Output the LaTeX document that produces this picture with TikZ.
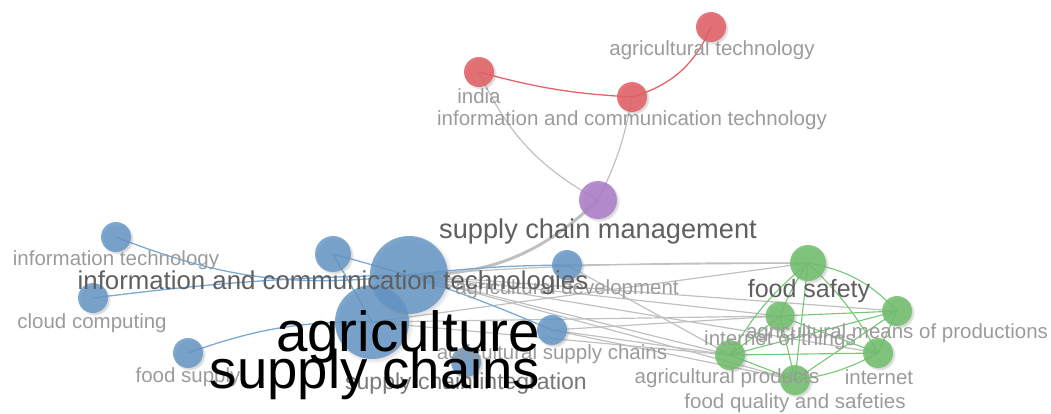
\documentclass[tikz,border=0pt]{standalone}
\usepackage{fontspec}
\setmainfont{Liberation Sans}
\usetikzlibrary{shadows}
\definecolor{cblue}{RGB}{96,148,198}
\definecolor{cred}{RGB}{226,94,100}
\definecolor{cgreen}{RGB}{112,190,108}
\definecolor{cpurple}{RGB}{172,124,200}
\definecolor{eblue}{RGB}{122,170,214}
\definecolor{ered}{RGB}{228,100,104}
\definecolor{egreen}{RGB}{116,200,116}
\definecolor{egray}{RGB}{192,192,192}
\definecolor{tlight}{RGB}{155,155,155}
\definecolor{tmid}{RGB}{95,95,95}
\definecolor{tsci}{RGB}{120,120,120}
\begin{document}
\begin{tikzpicture}[x=1pt,y=-1pt,
  dot/.style={circle,inner sep=0pt,minimum size=#1,draw=none,
    circular drop shadow={shadow xshift=1.5pt,shadow yshift=-1.5pt,shadow scale=1.08,opacity=0.3}},
  bluedot/.style={dot=#1,fill=cblue,fill opacity=0.8},
  reddot/.style={dot=#1,fill=cred,fill opacity=0.85},
  greendot/.style={dot=#1,fill=cgreen,fill opacity=0.85},
  purpledot/.style={dot=#1,fill=cpurple,fill opacity=0.85},
  lbl/.style={inner sep=0pt,anchor=center,font=\fontsize{#1}{#1}\selectfont},
  small/.style={lbl=20.5pt,text=tlight},
  bedge/.style={draw=eblue,line width=1.3pt},
  redge/.style={draw=ered,line width=1.3pt},
  gedge/.style={draw=egreen,line width=1.1pt},
  nedge/.style={draw=egray,line width=1.2pt},
]
\useasboundingbox (0,0) rectangle (1051,413);

% ---------- node positions (circles are drawn after the links)
\coordinate (pAgT)  at (711,27);
\coordinate (pInd)  at (479,72);
\coordinate (pICTy) at (632,97);
\coordinate (pSCM)  at (598,200);
\coordinate (pIT)   at (116,237);
\coordinate (pICTs) at (333,254);
\coordinate (pAgr)  at (409,275);
\coordinate (pSC)   at (372,322);
\coordinate (pCC)   at (93,298);
\coordinate (pFS)   at (188,353);
\coordinate (pAD)   at (567,265);
\coordinate (pASC)  at (552,330);
\coordinate (pSCI)  at (466,362);
\coordinate (pFSa)  at (808,263);
\coordinate (pAMP)  at (897,311);
\coordinate (pIoT)  at (780,316);
\coordinate (pInt)  at (878,353);
\coordinate (pAP)   at (730,355);
\coordinate (pFQ)   at (795,380);

% ---------- grey links between clusters
\draw[nedge] (pInd) to[bend right=18] (pSCM);
\draw[nedge] (pICTy) to[bend left=8] (pSCM);
\draw[nedge,line width=3pt] (pSCM) to[bend left=22] (pAgr);
\draw[nedge] (pAgr) to[bend left=2] (pFSa);
\draw[nedge] (pAgr) to (pAMP);
\draw[nedge] (pAgr) to (pIoT);
\draw[nedge] (pAgr) to (pAP);
\draw[nedge] (pAgr) to (pInt);
\draw[nedge] (pAgr) to (pFQ);
\draw[nedge] (pSC) to (pFSa);
\draw[nedge] (pSC) to (pIoT);
\draw[nedge] (pSC) to (pAP);
\draw[nedge] (pAD) to (pFSa);
\draw[nedge] (pAD) to (pAP);
\draw[nedge] (pASC) to (pAP);
\draw[nedge] (pASC) to (pIoT);
\draw[nedge] (pASC) to (pFQ);

% ---------- red cluster links
\draw[redge] (pInd) to[bend right=6] (pICTy);
\draw[redge] (pICTy) to[bend right=25] (pAgT);

% ---------- blue cluster links
\draw[bedge] (pIT) to[bend right=14] (pAgr);
\draw[bedge] (pCC) to[bend left=3] (pAgr);
\draw[bedge] (pFS) to[bend left=10] (pSC);
\draw[bedge] (pICTs) to (pSC);
\draw[bedge] (pICTs) to[bend left=4] (pASC);
\draw[bedge] (pAgr) to[bend left=3] (pAD);

% ---------- green cluster links
\draw[gedge] (pFSa) to[bend left=18] (pAMP);
\draw[gedge] (pFSa) to[bend right=6] (pIoT);
\draw[gedge] (pFSa) to[bend right=10] (pAP);
\draw[gedge] (pFSa) to (pFQ);
\draw[gedge] (pFSa) to[bend left=8] (pInt);
\draw[gedge] (pIoT) to (pAMP);
\draw[gedge] (pIoT) to (pAP);
\draw[gedge] (pIoT) to (pFQ);
\draw[gedge] (pIoT) to (pInt);
\draw[gedge] (pAP) to (pAMP);
\draw[gedge] (pAP) to (pInt);
\draw[gedge] (pAP) to (pFQ);
\draw[gedge] (pFQ) to[bend right=10] (pInt);
\draw[gedge] (pFQ) to (pAMP);
\draw[gedge] (pInt) to (pAMP);

% ---------- circles
\node[reddot=30pt] (nAgT) at (pAgT) {};
\node[reddot=30pt] (nInd) at (pInd) {};
\node[reddot=30pt] (nICTy) at (pICTy) {};
\node[purpledot=38pt] (nSCM) at (pSCM) {};
\node[bluedot=30pt] (nIT) at (pIT) {};
\node[bluedot=36pt] (nICTs) at (pICTs) {};
\node[bluedot=30pt] (nCC) at (pCC) {};
\node[bluedot=30pt] (nFS) at (pFS) {};
\node[bluedot=74pt] (nSC) at (pSC) {};
\node[bluedot=78pt] (nAgr) at (pAgr) {};
\node[bluedot=30pt] (nAD) at (pAD) {};
\node[bluedot=30pt] (nASC) at (pASC) {};
\node[bluedot=30pt] (nSCI) at (pSCI) {};
\node[greendot=36pt] (nFSa) at (pFSa) {};
\node[greendot=30pt] (nAMP) at (pAMP) {};
\node[greendot=29pt] (nIoT) at (pIoT) {};
\node[greendot=30pt] (nInt) at (pInt) {};
\node[greendot=30pt] (nAP) at (pAP) {};
\node[greendot=30pt] (nFQ) at (pFQ) {};

% ---------- labels
\node[small] (tAgT) at (712,50) {agricultural technology};
\node[small] (tInd) at (479,96) {india};
\node[small] (tICTy) at (632,120) {information and communication technology};
\node[lbl=27.2pt,text=tmid] (tSCM) at (598,231) {supply chain management};
\node[small] (tIT) at (116,260) {information technology};
\node[small] (tCC) at (92,323) {cloud computing};
\node[small] (tFS) at (188,377) {food supply};
\node[small] (tAD) at (567,289) {agricultural development};
\node[small] (tASC) at (552,354) {agricultural supply chains};
\node[lbl=23pt,text=tsci] (tSCI) at (466,384) {supply chain integration};
\node[lbl=25.8pt,text=tmid] (tICTs) at (333,283) {information and communication technologies};
\node[lbl=25pt,text=tmid] (tFSa) at (809,291) {food safety};
\node[small] (tAMP) at (897,333) {agricultural means of productions};
\node[small] (tIoT) at (780,340) {internet of things};
\node[small] (tInt) at (879,377) {internet};
\node[small] (tAP) at (727,378) {agricultural products};
\node[small] (tFQ) at (795,403) {food quality and safeties};
\node[lbl=56.5pt,text=black] (tAgr) at (408,337) {agriculture};
\node[lbl=54.5pt,text=black] (tSC) at (375,374) {supply chains};
\end{tikzpicture}
\end{document}
